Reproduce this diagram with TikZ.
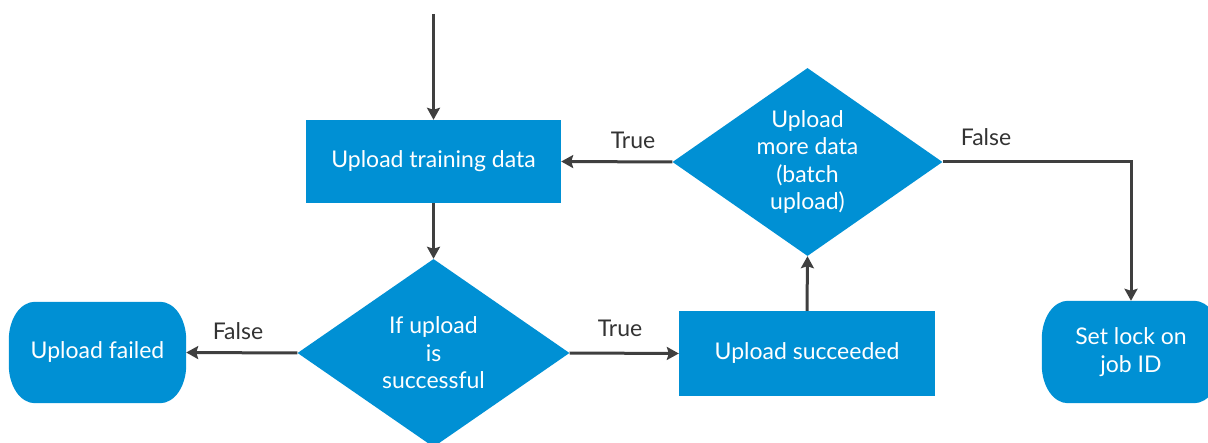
\documentclass[tikz,border=0pt]{standalone}
\usepackage{fontspec}
\setmainfont{Lato}
\usetikzlibrary{shapes.geometric,arrows.meta,backgrounds,positioning}
\definecolor{boxblue}{HTML}{0090D4}
\definecolor{linegray}{HTML}{3F3F3F}
\tikzset{
  every node/.style={font=\fontsize{23}{27.5}\selectfont},
  procbox/.style={fill=boxblue, text=white, minimum width=#1, minimum height=84pt, inner sep=0pt, align=center},
  decide/.style={diamond, fill=boxblue, text=white, minimum width=272pt, minimum height=188pt, aspect=1.447, inner sep=0pt, align=center},
  termnode/.style={text=white, minimum width=177pt, minimum height=101pt, inner sep=0pt, align=center},
  flow/.style={line width=3pt, draw=linegray, -{Stealth[length=12pt,width=13pt,inset=2pt]}},
  lbl/.style={text=black!80}
}
\newcommand\termshape[1]{%
  \fill[boxblue] ([xshift=26pt]#1.north west) -- ([xshift=-26pt]#1.north east)
    arc[start angle=90,end angle=0,x radius=26pt,y radius=38pt]
    -- ([yshift=38pt]#1.south east)
    arc[start angle=0,end angle=-90,x radius=26pt,y radius=38pt]
    -- ([xshift=26pt]#1.south west)
    arc[start angle=270,end angle=180,x radius=26pt,y radius=38pt]
    -- ([yshift=-38pt]#1.north west)
    arc[start angle=180,end angle=90,x radius=26pt,y radius=38pt] -- cycle;}
\begin{document}
\begin{tikzpicture}[x=1pt,y=1pt]
\useasboundingbox (0,0) rectangle (1208,442);
\coordinate (start) at (433.5,428);
\node[procbox=255pt, minimum height=83pt] (train) at (433.5,280.5) {Upload training data};
\node[decide] (ifok) at (433.5,89) {If upload\\is\\successful};
\node[termnode] (failed) at (97.5,89.5) {Upload failed};
\node[procbox=256pt, minimum height=85pt] (succ) at (807,88.5) {Upload succeeded};
\node[decide, minimum width=270pt, aspect=1.436] (more) at (807.5,280) {Upload\\more data\\(batch\\upload)};
\node[termnode, minimum width=178pt, minimum height=102pt] (lock) at (1131,90) {Set lock on\\job ID};
\begin{pgfonlayer}{background}
\termshape{failed}
\termshape{lock}
\end{pgfonlayer}
\coordinate (corner) at (1131,280);
\draw[flow] (start) -- (train.north);
\draw[flow] (train.south) -- (ifok.north);
\draw[flow] (ifok.west) -- (failed.east);
\draw[flow] (ifok.east) -- (succ.west);
\draw[flow] (succ.north) -- (more.south);
\draw[flow] (more.west) -- (train.east);
\draw[flow] (more.east) -- (corner) -- (lock.north);
\node[lbl] (lfalse) at (238,111) {False};
\node[lbl] (ltrue) at (620,114) {True};
\node[lbl] (utrue) at (633,302) {True};
\node[lbl] (ufalse) at (986,305) {False};
\end{tikzpicture}
\end{document}
